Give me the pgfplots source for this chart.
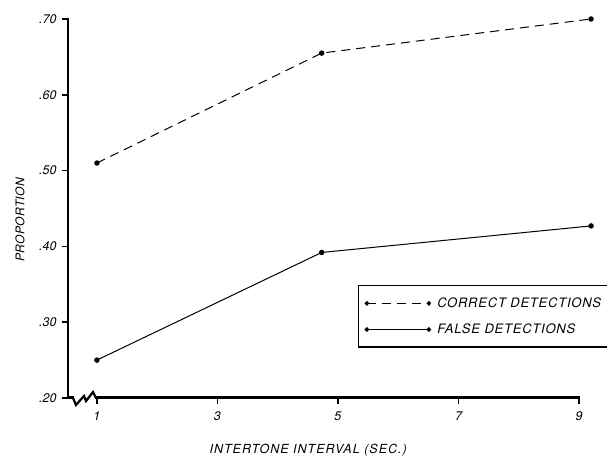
\documentclass[border=0pt]{standalone}
\usepackage{fontspec}
\setmainfont{TeX Gyre Heros}
\usepackage{pgfplots}
\pgfplotsset{compat=1.18}
\begin{document}
\begin{tikzpicture}
\useasboundingbox (-68pt,-59pt) rectangle (539pt,398pt);
\begin{axis}[
  name=ax,
  at={(0,0)}, anchor=south west,
  scale only axis, width=511pt, height=379pt,
  xmin=0.52, xmax=9, ymin=0.2, ymax=0.7,
  axis x line*=bottom, axis y line*=left,
  axis line style={draw=none},
  xtick={1,3,5,7,9},
  ytick={0.2,0.3,0.4,0.5,0.6,0.7},
  yticklabels={.20,.30,.40,.50,.60,.70},
  tick align=outside, major tick length=6pt,
  every tick/.style={line width=1.5pt, black},
  /pgf/number format/assume math mode=true,
  every tick label/.append style={font=\fontsize{12.5}{14}\selectfont\itshape},
  xticklabel style={yshift=-4pt},
  yticklabel style={xshift=-2pt},
  xlabel={INTERTONE INTERVAL (SEC.)},
  ylabel={PROPORTION},
  xlabel style={at={(rel axis cs:0.47,-0.138)}, anchor=center,
    font=\fontsize{12.5}{14}\selectfont\itshape\addfontfeature{LetterSpace=8}},
  ylabel style={at={(rel axis cs:-0.094,0.47)}, anchor=center, rotate=0,
    font=\fontsize{12}{14}\selectfont\itshape\addfontfeature{LetterSpace=3}},
  clip=false,
  legend image code/.code={
    \draw[#1, mark=none] (0pt,0pt) -- (62pt,0pt);
    \fill (0pt,0pt) circle (1.8pt);
    \fill (62pt,0pt) circle (1.8pt);
  },
  legend style={at={(rel axis cs:0.5675,0.298)}, anchor=north west,
    draw=black, line width=1.3pt, inner xsep=6pt, inner ysep=10pt,
    row sep=11pt,
    nodes={inner xsep=6pt},
    font=\fontsize{13}{15}\selectfont\itshape\addfontfeature{LetterSpace=6}},
  legend cell align=left,
]
\addplot[black, line width=1pt, dash pattern=on 9pt off 6pt, mark=*, mark size=2.2pt, mark options={solid}]
  coordinates {(1,0.51) (4.73,0.655) (9.2,0.700)};
\addlegendentry{CORRECT DETECTIONS}
\addplot[black, line width=1pt, mark=*, mark size=2.2pt]
  coordinates {(1,0.25) (4.73,0.392) (9.2,0.427)};
\addlegendentry{FALSE DETECTIONS}
\end{axis}
\draw[black, line width=2.4pt, line cap=rect] (0pt,379pt) -- (0pt,0.3pt) -- (5pt,0.3pt);
\draw[black, line width=2.4pt, line cap=rect] (28pt,0.3pt) -- (511pt,0.3pt);
\draw[black, line width=2.2pt] (5pt,0pt) -- (8pt,-7pt) -- (16pt,2pt) -- (18pt,-3pt) -- (25pt,6pt) -- (28pt,0pt);
\end{tikzpicture}
\end{document}
